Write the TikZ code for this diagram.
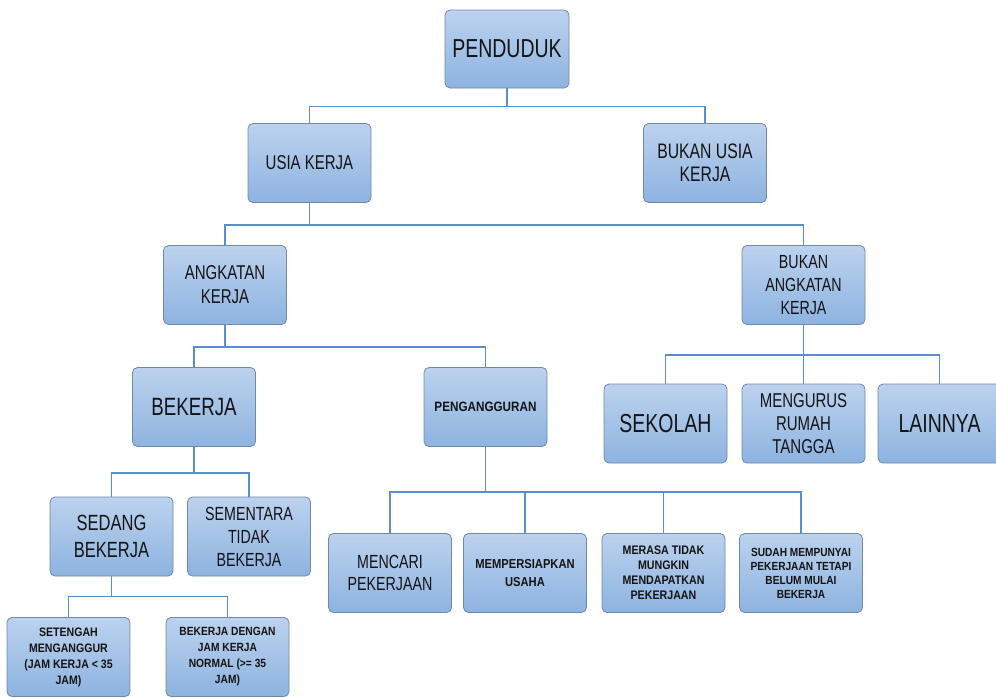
\documentclass[tikz,border=0pt]{standalone}
\usepackage{fontspec}
\setmainfont{Liberation Sans}
\newfontfamily\condf{Liberation Sans}[FakeStretch=0.75]
\newfontfamily\smf{Liberation Sans Bold}[FakeStretch=0.86]
\definecolor{boxtop}{RGB}{188,210,238}
\definecolor{boxbot}{RGB}{141,179,224}
\definecolor{boxline}{RGB}{112,136,170}
\definecolor{linec}{RGB}{91,143,203}
\definecolor{txt}{RGB}{20,20,20}
\tikzset{
  box/.style={draw=boxline, line width=0.8pt, rounded corners=5pt,
    top color=boxtop, bottom color=boxbot, minimum width=123pt,
    minimum height=79pt, inner sep=1pt, align=center, text=txt},
  conn/.style={draw=linec, line width=1.7pt},
  fa/.style={font=\condf\fontsize{26}{30}\selectfont},
  fb/.style={font=\condf\fontsize{20}{23}\selectfont},
  fc/.style={font=\condf\fontsize{22}{27}\selectfont},
  fs/.style={font=\smf\fontsize{12.4}{15}\selectfont},
  fm/.style={font=\smf\fontsize{13}{18}\selectfont}
}
\begin{document}
\begin{tikzpicture}[x=1pt,y=-1pt]
\path[use as bounding box, fill=white] (0,0) rectangle (996,697);
% level 0
\node[box, fa, minimum width=124pt, minimum height=78pt] (pend) at (507,49) {PENDUDUK};
% level 1
\node[box, fb] (usia) at (309.5,163) {USIA KERJA};
\node[box, fb, font=\condf\fontsize{21}{23}\selectfont] (bukanusia) at (705,163) {BUKAN USIA\\KERJA};
% level 2
\node[box, fb, font=\condf\fontsize{20}{24}\selectfont] (angkatan) at (225,285) {ANGKATAN\\KERJA};
\node[box, fb, font=\condf\fontsize{19}{23}\selectfont] (bukanak) at (803.5,285) {BUKAN\\ANGKATAN\\KERJA};
% level 3
\node[box, fa, font=\condf\fontsize{25}{30}\selectfont] (bekerja) at (194,407) {BEKERJA};
\node[box, font=\smf\fontsize{13.6}{15}\selectfont] (peng) at (485.5,407) {PENGANGGURAN};
\node[box, fa] (sekolah) at (665.5,423.5) {SEKOLAH};
\node[box, fb] (mengurus) at (803.5,423.5) {MENGURUS\\RUMAH\\TANGGA};
\node[box, fa] (lainnya) at (939.5,423.5) {LAINNYA};
% level 4
\node[box, fc] (sedang) at (111.5,536.5) {SEDANG\\BEKERJA};
\node[box, fb, font=\condf\fontsize{19}{23}\selectfont] (sementara) at (249,536.5) {SEMENTARA\\TIDAK\\BEKERJA};
\node[box, fb, font=\condf\fontsize{19}{22}\selectfont] (mencari) at (390,573) {MENCARI\\PEKERJAAN};
\node[box, fm] (mempersiapkan) at (525,573) {MEMPERSIAPKAN\\USAHA};
\node[box, fs] (merasa) at (663.5,573) {MERASA TIDAK\\MUNGKIN\\MENDAPATKAN\\PEKERJAAN};
\node[box, font=\smf\fontsize{11.8}{14}\selectfont] (sudah) at (801,573) {SUDAH MEMPUNYAI\\PEKERJAAN TETAPI\\BELUM MULAI\\BEKERJA};
% level 5
\node[box, fs, font=\smf\fontsize{12.3}{16}\selectfont] (setengah) at (68.5,657) {SETENGAH\\MENGANGGUR\\(JAM KERJA < 35\\JAM)};
\node[box, fs, font=\smf\fontsize{11.9}{16}\selectfont] (bekdengan) at (227.5,657) {BEKERJA DENGAN\\JAM KERJA\\NORMAL (>= 35\\JAM)};
% connectors
\draw[conn] (pend.south) -- ++(0,18) -| (usia.north);
\draw[conn] (pend.south) -- ++(0,18) -| (bukanusia.north);
\draw[conn] (usia.south) -- ++(0,22) -| (angkatan.north);
\draw[conn] (usia.south) -- ++(0,22) -| (bukanak.north);
\draw[conn] (angkatan.south) -- ++(0,22) -| (bekerja.north);
\draw[conn] (angkatan.south) -- ++(0,22) -| (peng.north);
\draw[conn] (bukanak.south) -- ++(0,30) -| (sekolah.north);
\draw[conn] (bukanak.south) -- ++(0,30) -| (mengurus.north);
\draw[conn] (bukanak.south) -- ++(0,30) -| (lainnya.north);
\draw[conn] (bekerja.south) -- ++(0,26) -| (sedang.north);
\draw[conn] (bekerja.south) -- ++(0,26) -| (sementara.north);
\draw[conn] (peng.south) -- ++(0,45) -| (mencari.north);
\draw[conn] (peng.south) -- ++(0,45) -| (mempersiapkan.north);
\draw[conn] (peng.south) -- ++(0,45) -| (merasa.north);
\draw[conn] (peng.south) -- ++(0,45) -| (sudah.north);
\draw[conn] (sedang.south) -- ++(0,20) -| (setengah.north);
\draw[conn] (sedang.south) -- ++(0,20) -| (bekdengan.north);
\end{tikzpicture}
\end{document}
